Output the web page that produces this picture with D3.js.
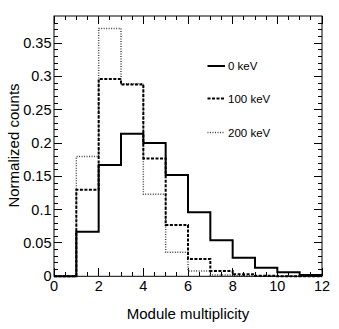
<!DOCTYPE html>
<html><head><meta charset="utf-8">
<script src="https://cdn.jsdelivr.net/npm/d3@7"></script>
<style>body{margin:0;background:#fff}svg{display:block}text{font-family:"Liberation Sans",Arial,sans-serif;fill:#000}</style>
</head><body><svg id="c" width="339" height="329"></svg>
<script>
const binEdges = [0,1,2,3,4,5,6,7,8,9,10,11,12];
const series0keV   = [0, 0.067, 0.167, 0.214, 0.200, 0.152, 0.096, 0.054, 0.028, 0.013, 0.006, 0.002];
const series100keV = [0, 0.130, 0.296, 0.288, 0.177, 0.077, 0.026, 0.008, 0.003, 0.001, 0, 0];
const series200keV = [0, 0.180, 0.372, 0.289, 0.123, 0.036, 0.008, 0.002, 0.001, 0, 0, 0];
const legendLabels = ["0 keV", "100 keV", "200 keV"];
const xTickLabels = [0,2,4,6,8,10,12];
const yTickLabels = [0,0.05,0.1,0.15,0.2,0.25,0.3,0.35];

const svg = d3.select("#c");
const L=54, R=322, T=16, B=276.3;
const x = d3.scaleLinear().domain([0,12]).range([L,R]);
const y = d3.scaleLinear().domain([0,0.3907]).range([B,T]);

// ticks
const g = svg.append("g").attr("stroke","#000").attr("stroke-width",1).attr("shape-rendering","crispEdges");
const xMinor = d3.range(0,12.001,0.5);
xMinor.forEach(v=>{
  const major = Math.abs(v/2-Math.round(v/2))<1e-6;
  const len = major?8:4;
  g.append("line").attr("x1",x(v)).attr("x2",x(v)).attr("y1",B).attr("y2",B-len);
  g.append("line").attr("x1",x(v)).attr("x2",x(v)).attr("y1",T).attr("y2",T+len);
});
const yMinor = d3.range(0,0.39,0.01);
yMinor.forEach((v,i)=>{
  const major = i%5===0;
  const len = major?8:4;
  g.append("line").attr("x1",L).attr("x2",L+len).attr("y1",y(v)).attr("y2",y(v));
  g.append("line").attr("x1",R).attr("x2",R-len).attr("y1",y(v)).attr("y2",y(v));
});

// histograms
const stepLine = d3.line().x(d=>x(d[0])).y(d=>y(d[1])).curve(d3.curveStepAfter);
function pts(vals){
  const p = vals.map((v,i)=>[binEdges[i],v]);
  p.push([binEdges[binEdges.length-1], vals[vals.length-1]]);
  return p;
}
const styles = [
  {data:series0keV, w:2, dash:null, col:"#000"},
  {data:series100keV, w:2, dash:"3,1.5", col:"#000"},
  {data:series200keV, w:1.5, dash:"1,1.5", col:"#444"}
];
[styles[2],styles[1],styles[0]].forEach(s=>{
  svg.append("path").attr("d",stepLine(pts(s.data))).attr("fill","none")
    .attr("stroke",s.col).attr("stroke-width",s.w).attr("stroke-dasharray",s.dash);
});

// frame
svg.append("rect").attr("x",L).attr("y",T).attr("width",R-L).attr("height",B-T)
  .attr("fill","none").attr("stroke","#000").attr("stroke-width",1);

// tick labels
xTickLabels.forEach(v=>{
  svg.append("text").attr("x",x(v)).attr("y",290.5).attr("text-anchor","middle")
    .attr("font-size",14.5).text(v);
});
yTickLabels.forEach(v=>{
  svg.append("text").attr("x",L-2.5).attr("y",y(v)+5).attr("text-anchor","end")
    .attr("font-size",14.5).text(v===0?"0":String(v));
});

// axis titles
svg.append("text").attr("x",188).attr("y",319).attr("text-anchor","middle")
  .attr("font-size",15).text("Module multiplicity");
svg.append("text").attr("transform","translate(19,145.5) rotate(-90)").attr("text-anchor","middle")
  .attr("font-size",15).text("Normalized counts");

// legend
const ly = [66, 98.5, 132.5];
styles.forEach((s,i)=>{
  svg.append("line").attr("x1",207.5).attr("x2",225).attr("y1",ly[i]).attr("y2",ly[i])
    .attr("stroke",s.col).attr("stroke-width",s.w).attr("stroke-dasharray",s.dash);
  svg.append("text").attr("x",228).attr("y",ly[i]+4.2).attr("font-size",11.5).text(legendLabels[i]);
});
</script></body></html>
